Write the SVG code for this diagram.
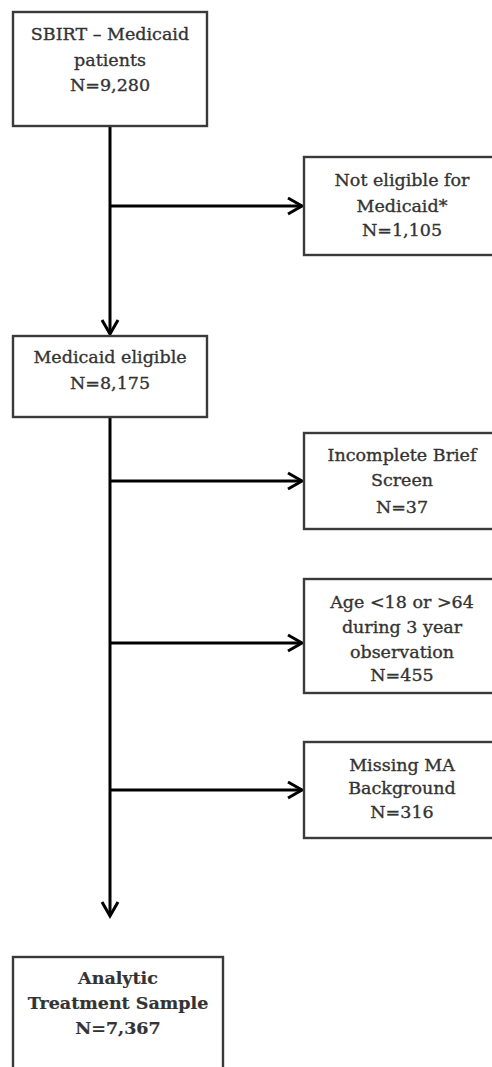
<svg xmlns="http://www.w3.org/2000/svg" width="492" height="1067" viewBox="0 0 492 1067">
<defs>
<style>
.box{fill:#fff;stroke:#3a3a3a;stroke-width:2.4}
.t{font-family:"DejaVu Serif","Liberation Serif",serif;font-size:17.5px;fill:#333;stroke:#333;stroke-width:0.35;text-anchor:middle}
.b{font-weight:bold;stroke-width:0.2}
.c{fill:none;stroke:#000;stroke-width:3}
</style>
<marker id="ah" markerUnits="userSpaceOnUse" markerWidth="20" markerHeight="20" viewBox="-16 -10 20 20" refX="0" refY="0" orient="auto">
<polyline points="-14,-8 0,0 -14,8" fill="none" stroke="#000" stroke-width="3"/>
</marker>
</defs>
<rect width="492" height="1067" fill="#fff"/>
<g id="connectors">
<line class="c" x1="110" y1="126" x2="110" y2="334" marker-end="url(#ah)"/>
<line class="c" x1="110" y1="206" x2="302" y2="206" marker-end="url(#ah)"/>
<line class="c" x1="110" y1="417" x2="110" y2="916" marker-end="url(#ah)"/>
<line class="c" x1="110" y1="481" x2="302" y2="481" marker-end="url(#ah)"/>
<line class="c" x1="110" y1="643" x2="302" y2="643" marker-end="url(#ah)"/>
<line class="c" x1="110" y1="790" x2="302" y2="790" marker-end="url(#ah)"/>
</g>
<g id="n1">
<rect class="box" x="13" y="12" width="194" height="114"/>
<text class="t" x="110" y="40">SBIRT – Medicaid</text>
<text class="t" x="110" y="66">patients</text>
<text class="t" x="110" y="91">N=9,280</text>
</g>
<g id="n2">
<rect class="box" x="304" y="157" width="195" height="98"/>
<text class="t" x="402" y="186">Not eligible for</text>
<text class="t" x="402" y="212">Medicaid*</text>
<text class="t" x="402" y="236">N=1,105</text>
</g>
<g id="n3">
<rect class="box" x="13" y="336" width="194" height="81"/>
<text class="t" x="110" y="363">Medicaid eligible</text>
<text class="t" x="110" y="389">N=8,175</text>
</g>
<g id="n4">
<rect class="box" x="304" y="433" width="195" height="96"/>
<text class="t" x="402" y="461">Incomplete Brief</text>
<text class="t" x="402" y="486">Screen</text>
<text class="t" x="402" y="513">N=37</text>
</g>
<g id="n5">
<rect class="box" x="304" y="579" width="195" height="114"/>
<text class="t" x="402" y="608">Age &lt;18 or &gt;64</text>
<text class="t" x="402" y="633">during 3 year</text>
<text class="t" x="402" y="658">observation</text>
<text class="t" x="402" y="681">N=455</text>
</g>
<g id="n6">
<rect class="box" x="304" y="742" width="195" height="96"/>
<text class="t" x="402" y="771">Missing MA</text>
<text class="t" x="402" y="794">Background</text>
<text class="t" x="402" y="818">N=316</text>
</g>
<g id="n7">
<rect class="box" x="13" y="957" width="210" height="130"/>
<text class="t b" x="118" y="984">Analytic</text>
<text class="t b" x="118" y="1009">Treatment Sample</text>
<text class="t b" x="118" y="1034">N=7,367</text>
</g>
</svg>
